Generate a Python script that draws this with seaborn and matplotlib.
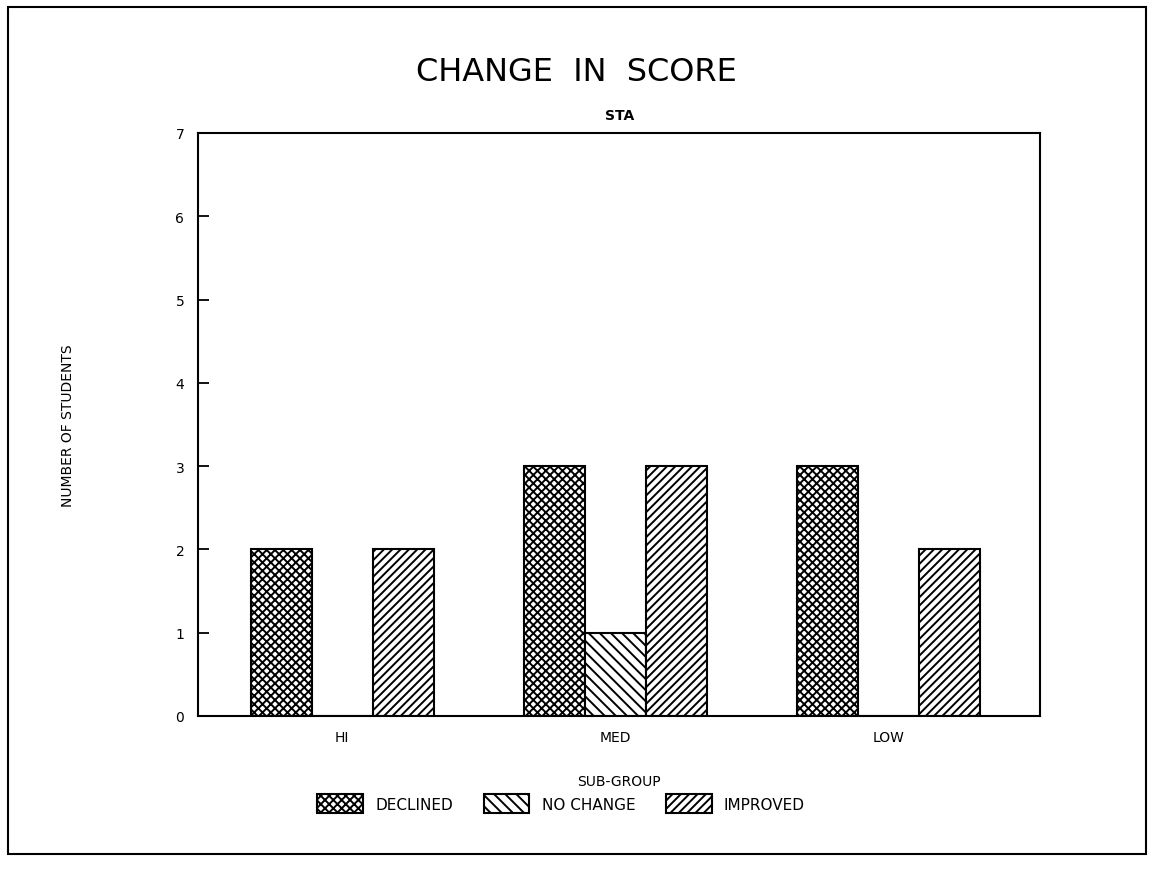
import pandas as pd
import numpy as np
import seaborn as sns
import matplotlib.pyplot as plt
from matplotlib.patches import Rectangle


sns.set_theme(style="white")
plt.rcParams["font.family"] = ["DejaVu Sans"]
plt.rcParams["hatch.linewidth"] = 1.4
plt.rcParams["text.color"] = "black"
plt.rcParams["axes.labelcolor"] = "black"
plt.rcParams["xtick.color"] = "black"
plt.rcParams["ytick.color"] = "black"

groups =  ["HI", "MED", "LOW"]
changes = ["DECLINED", "NO CHANGE", "IMPROVED"]
declined =  [2, 3, 3]
no_change = [0, 1, 0]
improved =  [2, 3, 2]

df = pd.DataFrame({"Group": groups * 3,
                   "Change": [changes[0]] * 3 + [changes[1]] * 3 + [changes[2]] * 3,
                   "Students": declined + no_change + improved})

fig = plt.figure(figsize=(11.52, 8.7), dpi=100)
ax = fig.add_axes([0.172, 0.176, 0.731, 0.670])

pal = {c: "white" for c in changes}
sns.barplot(data=df, x="Group", y="Students", hue="Change", order=groups,
            hue_order=changes, palette=pal, width=0.67, edgecolor="black",
            linewidth=1.5, legend=False, ax=ax, errorbar=None)

hatches = ["xxxx", "\\\\\\", "////"]
for cont, h in zip(ax.containers, hatches):
    for bar in cont:
        bar.set_hatch(h)
        bar.set_edgecolor("black")

ax.set_ylim(0, 7)
ax.set_xlim(-0.527, 2.557)
ax.set_yticks(range(8))
ax.tick_params(axis="y", left=True, direction="in", length=8, width=1.3,
               labelsize=10, pad=10, colors="black")
ax.tick_params(axis="x", length=0, labelsize=10, pad=10, colors="black")
for s in ax.spines.values():
    s.set_color("black")
    s.set_linewidth(1.5)

ax.set_xlabel("SUB-GROUP", fontsize=10, labelpad=22, color="black")
ax.set_ylabel("NUMBER OF STUDENTS", fontsize=10, labelpad=72, color="black")
ax.set_title("STA", fontsize=10, fontweight="bold", pad=10, color="black")
fig.text(0.5, 0.917, "CHANGE  IN  SCORE", ha="center", va="center",
         fontsize=23, color="black")

fig.legend(ax.containers, changes, loc="center", bbox_to_anchor=(0.487, 0.075),
           ncol=3, frameon=False, fontsize=11, handlelength=3.0, handleheight=1.5,
           columnspacing=2.0, handletextpad=0.8)

fig.patches.append(Rectangle((0.007, 0.017), 0.988, 0.974, transform=fig.transFigure,
                             fill=False, edgecolor="black", linewidth=1.5))

plt.savefig("out.png", dpi=100)
